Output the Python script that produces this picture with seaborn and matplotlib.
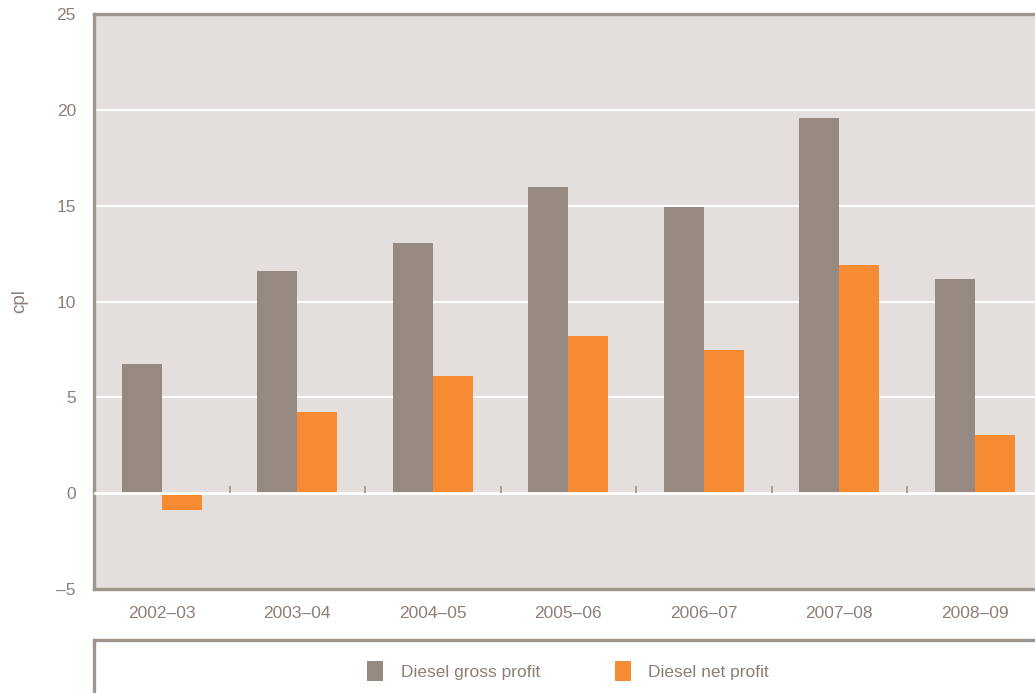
import matplotlib
matplotlib.use("Agg")
import matplotlib.pyplot as plt
import seaborn as sns
import pandas as pd
import numpy as np
from matplotlib.patches import Patch

categories = ["2002–03", "2003–04", "2004–05", "2005–06", "2006–07", "2007–08", "2008–09"]
gross_profit = [6.75, 11.6, 13.05, 16.0, 14.95, 19.55, 11.15]
net_profit = [-0.88, 4.25, 6.13, 8.2, 7.48, 11.9, 3.05]
series_names = ["Diesel gross profit", "Diesel net profit"]
y_ticks = [-5, 0, 5, 10, 15, 20, 25]

GRAY = "#968981"
ORANGE = "#F68B33"
BG = "#E4DFDC"
SPINE = "#A0958D"
TEXT = "#8C7F77"

df = pd.DataFrame({
    "period": categories * 2,
    "value": gross_profit + net_profit,
    "series": [series_names[0]] * len(categories) + [series_names[1]] * len(categories),
})

sns.set_theme(style="white")
plt.rcParams["font.family"] = ["Liberation Sans", "DejaVu Sans"]

fig = plt.figure(figsize=(10.35, 6.93), dpi=100)
ax = fig.add_axes([94 / 1035, 1 - 589 / 693, 948.5 / 1035, 575 / 693])
ax.set_facecolor(BG)

sns.barplot(data=df, x="period", y="value", hue="series",
            palette=[GRAY, ORANGE], width=0.59, gap=0, dodge=True,
            saturation=1, legend=False, ax=ax, zorder=2,
            linewidth=0, edgecolor="none")

ax.set_ylim(-5, 25)
ax.set_xlim(-0.5, len(categories) - 0.5)
ax.set_yticks(y_ticks)
ax.set_yticklabels(["–5" if t < 0 else str(t) for t in y_ticks])
for t in y_ticks[2:-1]:
    ax.axhline(t, color="white", lw=1.5, zorder=1)
ax.axhline(0, color="white", lw=2, zorder=3)
# category separator ticks on the zero line
ax.vlines(np.arange(len(categories) - 1) + 0.5, 0, 0.35, color=SPINE, lw=1.2, zorder=4)

ax.tick_params(axis="both", length=0, colors=TEXT, labelsize=12.5)
ax.tick_params(axis="y", pad=13)
ax.tick_params(axis="x", pad=12)
ax.set_xlabel("")
ax.set_ylabel("cpl", color=TEXT, fontsize=13.5, labelpad=20)

for side in ["left", "top", "bottom"]:
    ax.spines[side].set_visible(True)
    ax.spines[side].set_color(SPINE)
    ax.spines[side].set_linewidth(2.4)
ax.spines["right"].set_visible(False)

# legend box
lax = fig.add_axes([94 / 1035, -0.1, 1.0, 0.1 + (1 - 640 / 693)])
lax.set_xticks([]); lax.set_yticks([])
lax.set_facecolor("white")
for side in ["left", "top"]:
    lax.spines[side].set_visible(True)
    lax.spines[side].set_color(SPINE)
    lax.spines[side].set_linewidth(2.4)
for side in ["right", "bottom"]:
    lax.spines[side].set_visible(False)

handles = [Patch(facecolor=GRAY, edgecolor="none"), Patch(facecolor=ORANGE, edgecolor="none")]
fig.legend(handles, series_names, loc="center", bbox_to_anchor=(568 / 1035, 1 - 671 / 693),
           ncol=2, frameon=False, fontsize=12.5, labelcolor=TEXT,
           handlelength=0.95, handleheight=1.45, handletextpad=1.0, columnspacing=4.3)

fig.savefig("out.png", dpi=100)
